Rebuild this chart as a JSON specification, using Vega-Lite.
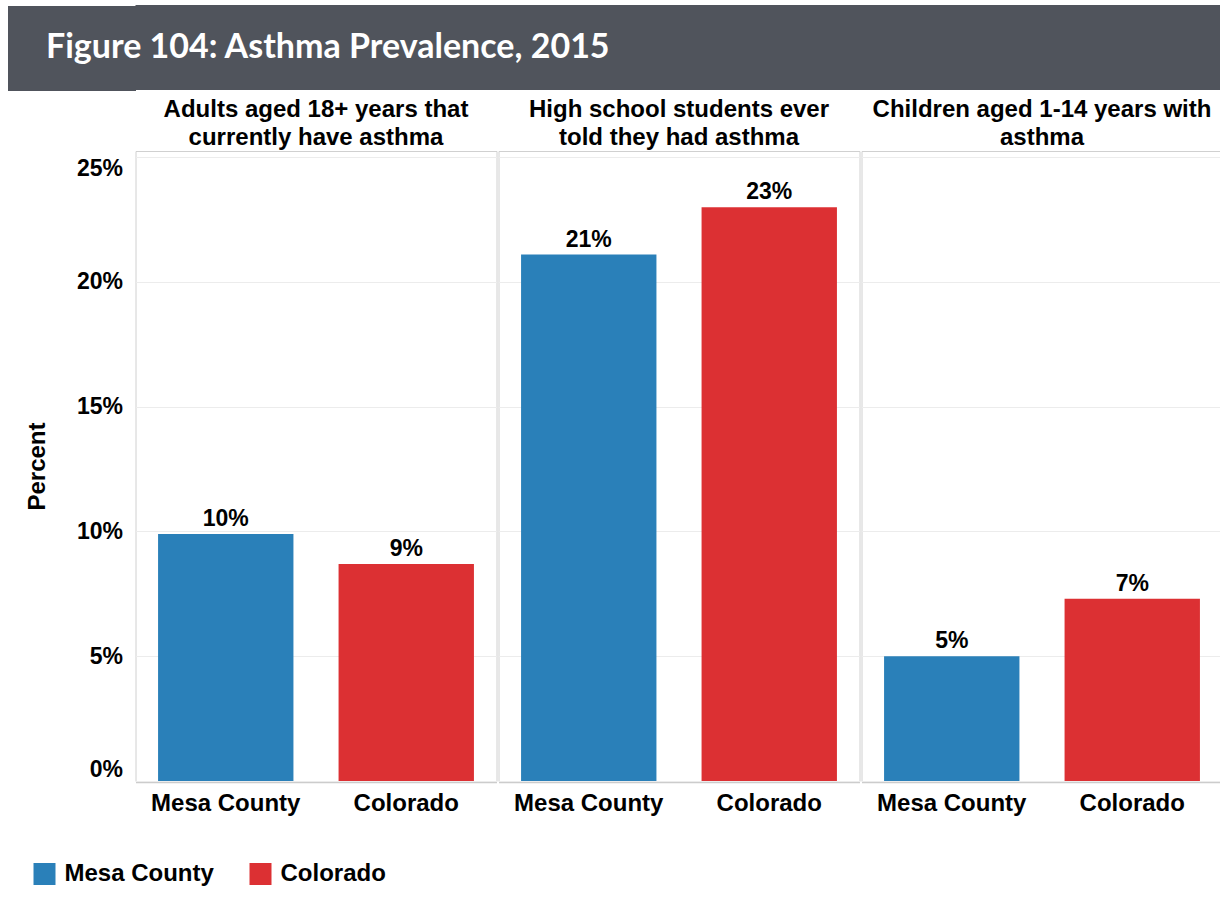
{
  "$schema": "https://vega.github.io/schema/vega-lite/v6.json",
  "background": "white",
  "padding": {"left": -35.5, "top": 5, "right": 0, "bottom": 0},
  "spacing": 7,
  "config": {
    "font": "Liberation Sans",
    "view": {"stroke": "#d0d0d0"}
  },
  "vconcat": [
    {
      "width": 1085,
      "height": 85,
      "view": {"fill": "#50545c", "stroke": null},
      "data": {"values": [{"title": "Figure 104: Asthma Prevalence, 2015"}]},
      "mark": {"type": "text", "opacity": 0},
      "encoding": {
        "y": {
          "field": "title",
          "type": "nominal",
          "axis": {
            "title": null,
            "domain": false,
            "ticks": true,
            "tickSize": 128,
            "tickWidth": 85,
            "tickCap": "butt",
            "tickColor": "#50545c",
            "tickOpacity": 1,
            "labelAlign": "left",
            "labelBaseline": "middle",
            "labelPadding": -38,
            "labelFont": "Lato",
            "labelFontSize": 34,
            "labelFontWeight": "bold",
            "labelColor": "white",
            "labelLimit": 0
          }
        },
        "text": {"field": "title", "type": "nominal"}
      }
    },
    {
      "data": {
        "values": [
          {"group": "Adults aged 18+ years that\ncurrently have asthma", "location": "Mesa County", "value": 0.099},
          {"group": "Adults aged 18+ years that\ncurrently have asthma", "location": "Colorado", "value": 0.087},
          {"group": "High school students ever\ntold they had asthma", "location": "Mesa County", "value": 0.211},
          {"group": "High school students ever\ntold they had asthma", "location": "Colorado", "value": 0.230},
          {"group": "Children aged 1-14 years with\nasthma", "location": "Mesa County", "value": 0.050},
          {"group": "Children aged 1-14 years with\nasthma", "location": "Colorado", "value": 0.073}
        ]
      },
      "spacing": 0,
      "facet": {
        "column": {
          "field": "group",
          "type": "nominal",
          "sort": ["Adults aged 18+ years that\ncurrently have asthma", "High school students ever\ntold they had asthma", "Children aged 1-14 years with\nasthma"],
          "header": {
            "title": null,
            "labelFontSize": 24,
            "labelFontWeight": "bold",
            "labelColor": "black",
            "labelExpr": "split(datum.value, '\\n')",
            "labelLineHeight": 28,
            "labelPadding": 0
          }
        }
      },
      "spec": {
        "width": 361,
        "height": 630,
        "encoding": {
          "x": {
            "field": "location",
            "type": "nominal",
            "sort": ["Mesa County", "Colorado"],
            "scale": {"paddingInner": 0.25, "paddingOuter": 0.125},
            "axis": {"title": null, "labelAngle": 0, "labelFontSize": 24, "labelFontWeight": "bold", "labelColor": "black", "labelPadding": 9, "ticks": false, "domainColor": "#cccccc", "domainWidth": 1.5}
          },
          "y": {
            "field": "value",
            "type": "quantitative",
            "scale": {"domain": [0, 0.2525], "nice": false},
            "axis": {
              "title": ["", "Percent"],
              "titleLineHeight": 17,
              "titleFontSize": 24,
              "titleFontWeight": "bold",
              "titleColor": "black",
              "titlePadding": 27,
              "values": [0, 0.05, 0.1, 0.15, 0.2, 0.25],
              "format": ".0%",
              "labelFontSize": 23,
              "labelFontWeight": "bold",
              "labelColor": "black",
              "labelPadding": 12,
              "labelFlush": 10,
              "ticks": false,
              "domain": false,
              "gridColor": "#ececec"
            }
          }
        },
        "layer": [
          {
            "mark": {"type": "bar"},
            "encoding": {
              "color": {
                "field": "location",
                "type": "nominal",
                "scale": {"domain": ["Mesa County", "Colorado"], "range": ["#2a80b9", "#dc3033"]},
                "legend": {
                  "orient": "none",
                  "legendX": -103,
                  "legendY": 857,
                  "direction": "horizontal",
                  "title": null,
                  "symbolType": "square",
                  "symbolSize": 484,
                  "symbolStrokeWidth": 0,
                  "symbolOpacity": 1,
                  "labelFontSize": 24,
                  "labelFontWeight": "bold",
                  "labelColor": "black",
                  "labelOffset": 8,
                  "columnPadding": 34
                }
              }
            }
          },
          {
            "mark": {"type": "text", "baseline": "bottom", "dy": -3, "fontSize": 23, "fontWeight": "bold", "color": "black"},
            "encoding": {
              "text": {"field": "value", "type": "quantitative", "format": ".0%"}
            }
          }
        ]
      }
    }
  ]
}
